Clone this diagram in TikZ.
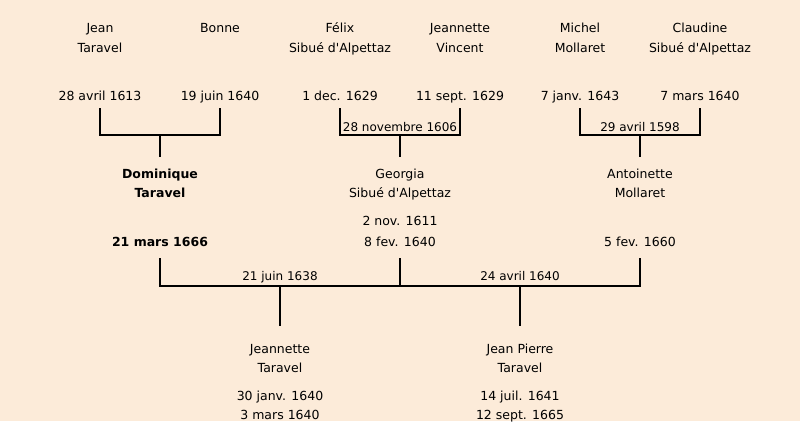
\documentclass[tikz,border=0pt]{standalone}
\usepackage{fontspec}
\setmainfont{DejaVu Sans}[Ligatures=TeXOff]
\definecolor{bgtan}{RGB}{252,235,217}
\begin{document}
\begin{tikzpicture}[x=1pt,y=-1pt,
  txt/.style={anchor=base,inner sep=0pt,font=\fontsize{12.5}{14}\selectfont},
  btxt/.style={txt,font=\fontsize{12.5}{14}\selectfont\bfseries},
  mtxt/.style={txt,font=\fontsize{12}{14}\selectfont},
  link/.style={line width=2pt,line cap=butt,line join=miter}]
\fill[bgtan] (0,0) rectangle (800,421);
\useasboundingbox (0,0) rectangle (800,421);
% --- grandparents
\node[txt] (jt1) at (100,32) {Jean};
\node[txt] (jt2) at (100,52) {Taravel};
\node[txt] (jtd) at (100,100) {28 avril 1613};
\node[txt] (bo1) at (220,32) {Bonne};
\node[txt] (bod) at (220,100) {19 juin 1640};
\node[txt] (fs1) at (340,32) {Félix};
\node[txt] (fs2) at (340,52) {Sibué d'Alpettaz};
\node[txt] (fsd) at (340,100) {1 dec. 1629};
\node[txt] (jv1) at (460,32) {Jeannette};
\node[txt] (jv2) at (460,52) {Vincent};
\node[txt] (jvd) at (460,100) {11 sept. 1629};
\node[txt] (mm1) at (580,32) {Michel};
\node[txt] (mm2) at (580,52) {Mollaret};
\node[txt] (mmd) at (580,100) {7 janv. 1643};
\node[txt] (cs1) at (700,32) {Claudine};
\node[txt] (cs2) at (700,52) {Sibué d'Alpettaz};
\node[txt] (csd) at (700,100) {7 mars 1640};
% marriage labels
\node[mtxt] (m2) at (400,131) {28 novembre 1606};
\node[mtxt] (m3) at (640,131) {29 avril 1598};
% --- parents
\node[btxt] (dt1) at (160,178) {Dominique};
\node[btxt] (dt2) at (160,197) {Taravel};
\node[btxt] (dtd) at (160,246) {21 mars 1666};
\node[txt] (gs1) at (400,178) {Georgia};
\node[txt] (gs2) at (400,197) {Sibué d'Alpettaz};
\node[txt] (gsb) at (400,225) {2 nov. 1611};
\node[txt] (gsd) at (400,246) {8 fev. 1640};
\node[txt] (am1) at (640,178) {Antoinette};
\node[txt] (am2) at (640,197) {Mollaret};
\node[txt] (amd) at (640,246) {5 fev. 1660};
\node[mtxt] (m4) at (280,280) {21 juin 1638};
\node[mtxt] (m5) at (520,280) {24 avril 1640};
% --- children
\node[txt] (jn1) at (280,353) {Jeannette};
\node[txt] (jn2) at (280,372) {Taravel};
\node[txt] (jnb) at (280,400) {30 janv. 1640};
\node[txt] (jnd) at (280,419) {3 mars 1640};
\node[txt] (jp1) at (520,353) {Jean Pierre};
\node[txt] (jp2) at (520,372) {Taravel};
\node[txt] (jpb) at (520,400) {14 juil. 1641};
\node[txt] (jpd) at (520,419) {12 sept. 1665};
% --- connectors
\coordinate (a1) at (100,108); \coordinate (a2) at (220,108);
\coordinate (b1) at (340,108); \coordinate (b2) at (460,108);
\coordinate (c1) at (580,108); \coordinate (c2) at (700,108);
\coordinate (ad) at (160,157); \coordinate (bd) at (400,157); \coordinate (cd) at (640,157);
\draw[link] (a1) |- (a2 |- 0,135) -- (a2);
\draw[link] (b1) |- (b2 |- 0,135) -- (b2);
\draw[link] (c1) |- (c2 |- 0,135) -- (c2);
\draw[link] (ad |- 0,135) -- (ad);
\draw[link] (bd |- 0,135) -- (bd);
\draw[link] (cd |- 0,135) -- (cd);
\coordinate (p1) at (160,258); \coordinate (p2) at (400,258); \coordinate (p3) at (640,258);
\coordinate (k1) at (280,326); \coordinate (k2) at (520,326);
\draw[link] (p1) |- (p3 |- 0,286) -- (p3);
\draw[link] (p2) -- (p2 |- 0,286);
\draw[link] (k1 |- 0,286) -- (k1);
\draw[link] (k2 |- 0,286) -- (k2);
\end{tikzpicture}
\end{document}
